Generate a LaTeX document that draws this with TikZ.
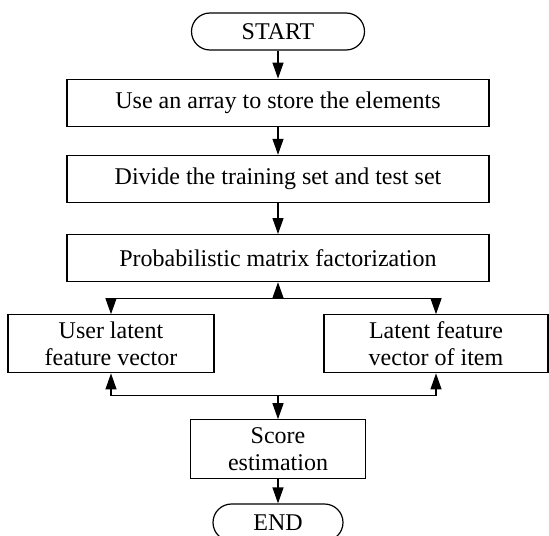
\documentclass[tikz,border=0pt]{standalone}
\usepackage{fontspec}
\setmainfont{Liberation Serif}
\usetikzlibrary{positioning,arrows.meta}
\begin{document}
\begin{tikzpicture}[node distance=14pt, >={Triangle[length=8pt,width=5.5pt]}, line width=0.6pt,
  box/.style={draw, align=center, minimum height=23.5pt, inner sep=1.5pt, font=\fontsize{12}{13.5}\selectfont},
  term/.style={box, rounded corners=9.25pt, minimum height=18.5pt}]
\useasboundingbox (-139pt,15.75pt) rectangle (135.5pt,-251.75pt);
\node (start) [term, minimum width=86.5pt] {START};
\node (store) [box, minimum width=211pt, below=of start] {Use an array to store the elements};
\node (divide) [box, minimum width=211pt, below=of store] {Divide the training set and test set};
\node (pmf) [box, minimum width=211pt, below=15.5pt of divide] {Probabilistic matrix factorization};
\node (user) [box, minimum width=103pt, minimum height=29pt, below=16pt of pmf, xshift=-83.5pt] {User latent\\feature vector};
\node (item) [box, minimum width=112pt, minimum height=29pt, below=16pt of pmf, xshift=79pt] {Latent feature\\vector of item};
\node (score) [box, minimum width=87.5pt, minimum height=29.5pt, below=68.5pt of pmf] {Score\\estimation};
\node (end) [term, minimum width=65pt, below=12pt of score] {END};
\coordinate[below=8pt of pmf] (top);
\coordinate[above=12pt of score] (bot);
\draw[->] (start) -- (store);
\draw[->] (store) -- (divide);
\draw[->] (divide) -- (pmf);
\draw[->] (top) -- (pmf);
\draw[->] (top) -| (user);
\draw[->] (top) -| (item);
\draw[->] (bot) -| (user);
\draw[->] (bot) -| (item);
\draw[->] (bot) -- (score);
\draw[->] (score) -- (end);
\end{tikzpicture}
\end{document}
